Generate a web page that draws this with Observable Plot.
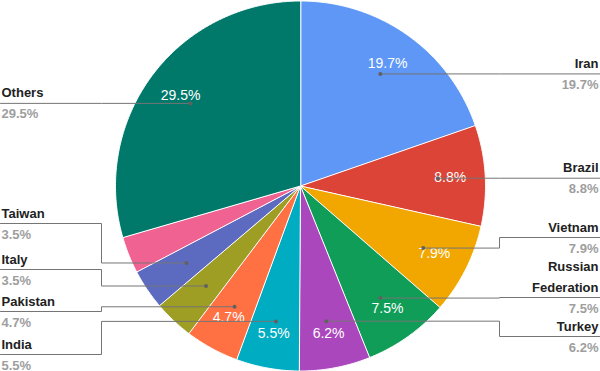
<!DOCTYPE html>
<html><head><meta charset="utf-8">
<script src="https://cdn.jsdelivr.net/npm/d3@7"></script>
<script src="https://cdn.jsdelivr.net/npm/@observablehq/plot@0.6"></script>
<style>body{margin:0;background:#fff}#chart svg{display:block}</style>
</head><body><div id="chart"></div>
<script>
// ---- data ----
const countries = ["Iran","Brazil","Vietnam","Russian Federation","Turkey","India","Pakistan","Italy","Taiwan","Unlabeled","Others"];
const shares = [19.7, 8.8, 7.9, 7.5, 6.2, 5.5, 4.7, 3.5, 3.5, 3.2, 29.5];
const shareLabels = ["19.7%","8.8%","7.9%","7.5%","6.2%","5.5%","4.7%","3.5%","3.5%","","29.5%"];
const sliceColors = ["#5e97f6","#db4437","#f2a600","#0f9d58","#ab47bc","#00acc1","#ff7043","#9e9d24","#5c6bc0","#f06292","#00796b"];

// ---- layout (pixels) ----
const W = 600, H = 371, R = 185, CX = 300, CY = 185.5;
const legendLineY = [null, null, 237, 297, 336, 354, 311, 269, 223, undefined, null]; // undefined = no label
const displayNames = ["Iran","Brazil","Vietnam","Russian\nFederation","Turkey","India","Pakistan","Italy","Taiwan","","Others"];

const total = d3.sum(shares);
let acc = 0;
const slices = countries.map((c, i) => {
  const a0 = acc / total * 2 * Math.PI; acc += shares[i];
  const a1 = acc / total * 2 * Math.PI;
  return {key: c, i, a0, a1, mid: (a0 + a1) / 2};
});
const px = (r, a) => r * Math.sin(a);
const py = (r, a) => r * Math.cos(a);
const toY = (p) => CY - p; // pixel -> data y

// slice polygons
const polyRows = [];
for (const s of slices) {
  polyRows.push({key: s.key, x: 0, y: 0});
  const n = Math.max(2, Math.ceil((s.a1 - s.a0) / (Math.PI / 360)));
  for (let k = 0; k <= n; k++) {
    const a = s.a0 + (s.a1 - s.a0) * k / n;
    polyRows.push({key: s.key, x: px(R, a), y: py(R, a)});
  }
}

// inner labels
const inner = slices.filter(s => shares[s.i] >= 4).map(s => ({
  x: px(150, s.mid), y: py(150, s.mid), t: shareLabels[s.i]
}));

// leader lines and side labels
const leaderRows = [], dots = [], names = [], vals = [];
for (const s of slices) {
  const ly = legendLineY[s.i];
  if (ly === undefined) continue;
  const dx = px(137.6, s.mid), dy = py(137.6, s.mid);
  const right = s.mid < Math.PI;
  const edge = right ? W - CX : -CX;
  const elbow = right ? 199 : -199;
  const lineY = ly === null ? dy : toY(ly);
  dots.push({x: dx, y: dy});
  [[dx, dy], [elbow, dy], [elbow, lineY], [edge, lineY]].forEach(([x, y]) => leaderRows.push({key: s.key, x, y}));
  names.push({x: edge, y: lineY, t: displayNames[s.i], right});
  vals.push({x: edge, y: lineY, t: shareLabels[s.i], right});
}

const font = "'Liberation Sans', Arial, sans-serif";
const chart = Plot.plot({
  width: W, height: H, margin: 0,
  style: {fontFamily: font, background: "#fff"},
  x: {domain: [-CX, W - CX], range: [0, W], axis: null},
  y: {domain: [-(H - CY), CY], range: [H, 0], axis: null},
  color: {domain: countries, range: sliceColors},
  marks: [
    Plot.line(polyRows, {x: "x", y: "y", z: "key", fill: "key", stroke: "white", strokeWidth: 1, curve: "linear-closed"}),
    Plot.text(inner, {x: "x", y: "y", text: "t", fill: "white", fontSize: 14, lineAnchor: "middle"}),
    Plot.line(leaderRows, {x: "x", y: "y", z: "key", stroke: "#757575", strokeWidth: 1}),
    Plot.dot(dots, {x: "x", y: "y", r: 2, fill: "#616161"}),
    Plot.text(names.filter(d => d.right), {x: "x", y: "y", text: "t", textAnchor: "end", dx: -2, dy: -6, lineAnchor: "bottom", lineHeight: 1.55, fontSize: 13, fontWeight: "bold", fill: "#212121"}),
    Plot.text(names.filter(d => !d.right), {x: "x", y: "y", text: "t", textAnchor: "start", dx: 1, dy: -6, lineAnchor: "bottom", fontSize: 13, fontWeight: "bold", fill: "#212121"}),
    Plot.text(vals.filter(d => d.right), {x: "x", y: "y", text: "t", textAnchor: "end", dx: -2, dy: 15, lineAnchor: "bottom", fontSize: 13, fontWeight: "bold", fill: "#9e9e9e"}),
    Plot.text(vals.filter(d => !d.right), {x: "x", y: "y", text: "t", textAnchor: "start", dx: 1, dy: 15, lineAnchor: "bottom", fontSize: 13, fontWeight: "bold", fill: "#9e9e9e"})
  ]
});
document.getElementById("chart").appendChild(chart);
</script>
</body></html>
